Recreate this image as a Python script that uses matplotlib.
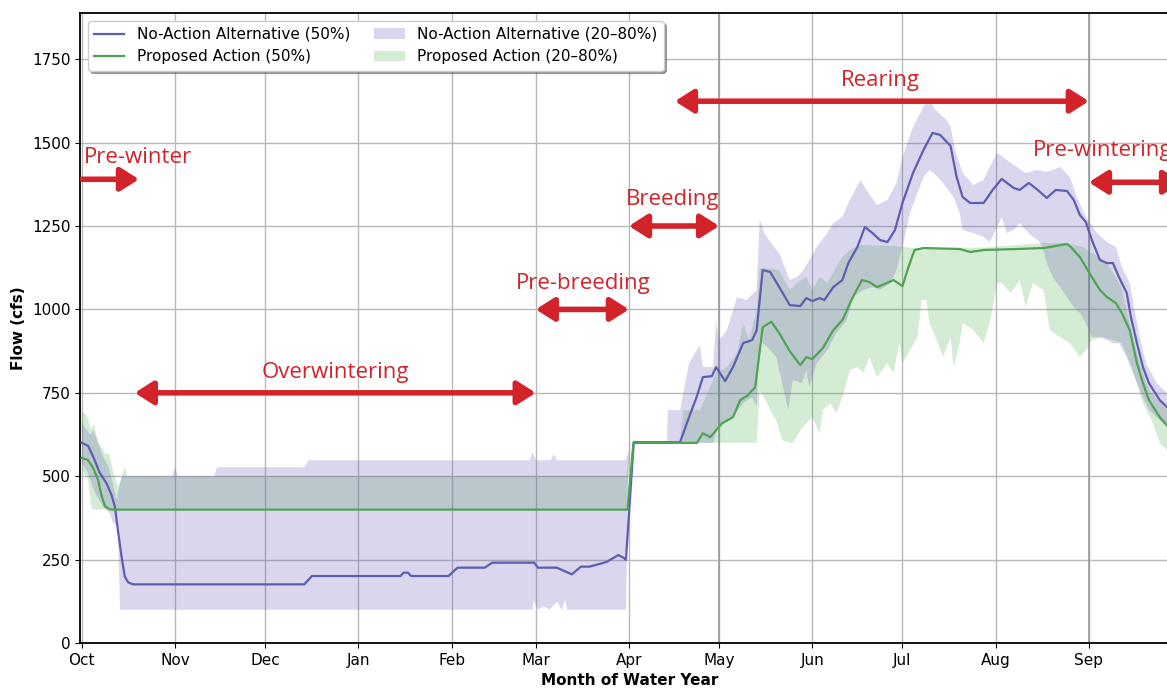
import numpy as np
import matplotlib.pyplot as plt
from matplotlib.patches import FancyArrowPatch

# day of water year (0 = Oct 1)
month_start = [0, 31, 61, 92, 123, 151, 182, 212, 243, 273, 304, 335]
month_name = ['Oct', 'Nov', 'Dec', 'Jan', 'Feb', 'Mar', 'Apr', 'May', 'Jun', 'Jul', 'Aug', 'Sep']

# No-Action Alternative, median flow (cfs)
naa_day = [0, 2.1, 3.8, 6, 8.2, 9.9, 11, 12, 13.2, 14.3, 15.4, 17, 74, 76.5, 106, 107, 108.5, 109.5, 122,
           125, 134, 136.5, 150.5, 151.7, 158, 163, 166, 168.8, 173, 174.7, 178.5, 180.5, 181, 183.6, 199,
           202, 204.5, 206.6, 209.6, 211, 214, 216.6, 220, 223, 224.5, 226.5, 229, 232, 235.5, 239, 241,
           243, 245.5, 247, 250, 253, 255, 258, 260.5, 263, 265.5, 268, 270.5, 273, 276.5, 280, 283, 285.5,
           289, 291, 293, 295.5, 300, 303, 306, 310, 312, 315, 318, 321, 324, 327.7, 330, 332, 334, 336,
           338.7, 341, 343, 345, 347.6, 349, 351, 353, 355, 358.6, 361, 364]
naa_mid = [600, 591, 558, 509, 479, 443, 408, 338, 259, 199, 182, 176, 176, 201, 201, 211, 211, 201, 201,
           226, 226, 241, 241, 226, 226, 206, 229, 229, 239, 244, 264, 254, 249, 602, 602,
           677, 737, 797, 800, 827, 785, 827, 899, 908, 938, 1118, 1112, 1067, 1013, 1010, 1034,
           1025, 1034, 1028, 1067, 1088, 1139, 1187, 1247, 1229, 1208, 1202, 1238, 1319, 1409, 1478, 1529, 1523,
           1490, 1397, 1337, 1319, 1319, 1358, 1391, 1364, 1358, 1379, 1358, 1334, 1358, 1355, 1328, 1283, 1262, 1208,
           1148, 1139, 1139, 1097, 1049, 977, 899, 827, 779, 728, 707, 690]

# No-Action Alternative, 20% and 80% exceedance bounds
naa_hi_day = [0, 2.7, 3.8, 5, 7, 8.8, 10, 11.5, 13.2, 14, 30, 31, 32, 44, 45, 74, 75.5, 149, 150, 151,
              156, 157, 158, 181, 182.5, 194.6, 195, 199, 202, 205.6, 206.6, 210, 211, 212, 214.6, 218, 221,
              224.5, 225.5, 227, 229, 232, 235.5, 238, 240, 241.5, 244.5, 248, 250, 253, 255.5, 259, 261,
              264.5, 268, 271, 273, 276.5, 280, 281.5, 284, 287.7, 289, 290.5, 293, 296.5, 300, 302, 304.5,
              307.7, 311, 314, 317.7, 321, 323, 325.4, 328.7, 331, 334, 337.7, 341, 344, 346, 348.6, 350, 352,
              354, 357.6, 361, 364]
naa_hi = [660, 625, 638, 610, 560, 530, 490, 430, 498, 500, 500, 527, 500, 500, 527, 527, 548, 548, 573, 548,
          548, 566, 548, 548, 600, 600, 698, 698, 839, 893, 827, 827, 968, 908, 938, 1037, 1028,
          1058, 1270, 1230, 1202, 1169, 1088, 1097, 1118, 1139, 1187, 1229, 1259, 1277, 1328, 1388, 1358,
          1313, 1328, 1379, 1457, 1547, 1607, 1635, 1598, 1568, 1547, 1478, 1409, 1373, 1388, 1427, 1469,
          1448, 1427, 1409, 1418, 1412, 1418, 1427, 1397, 1337, 1277, 1229, 1202, 1187, 1127, 1079, 1007, 917,
          839, 779, 749, 730]
naa_lo_day = [0, 2, 3.5, 5, 7, 9.3, 10.4, 12, 12.7, 150, 150.3, 151.7, 153.6, 155.5, 158.2, 159.5, 160.8,
              161.5, 181, 182, 210, 212, 216.6, 220, 223, 224.5, 225.5, 228, 229, 231, 233, 235, 236.5, 239.5,
              241, 242, 244.5, 248, 251, 254.5, 256.5, 260, 263, 265.5, 269, 271, 273, 275.5, 278, 280, 282,
              284, 286.5, 290, 292, 293, 296.5, 300, 302, 304.5, 306, 307.7, 310, 312, 314, 316.4, 318, 319.5,
              321, 323, 325.4, 327.7, 330, 332, 334, 336, 338.7, 341, 343, 345, 347.6, 349, 351, 353, 355,
              358.6, 361, 364]
naa_lo = [540, 510, 470, 440, 410, 389, 359, 349, 100, 100, 129, 100, 110, 100, 124, 100, 129,
          100, 100, 600, 600, 659, 677, 719, 737, 710, 908, 887, 878, 857, 779, 698, 788, 779,
          818, 767, 839, 878, 929, 968, 1037, 1058, 1067, 1058, 1079, 1118, 1187, 1289, 1349, 1397, 1418,
          1403, 1379, 1337, 1289, 1238, 1229, 1217, 1202, 1247, 1277, 1229, 1238, 1259, 1238, 1217, 1208, 1190,
          1139, 1097, 1067, 1037, 1007, 989, 959, 917, 917, 908, 899, 899, 857, 827, 779, 737, 698,
          668, 647, 630]

# Proposed Action, median flow (cfs)
pa_day = [0, 2.1, 3.8, 5.4, 6.5, 7.7, 9.3, 11, 181.5, 183.5, 204.6, 206.6, 209, 211, 213, 216.6, 219,
          221.6, 224, 226.5, 229.4, 232, 235.5, 239, 241, 243, 246.5, 250, 253, 256.5, 259.5, 262, 264.5,
          267, 270, 273, 275, 277, 280, 292, 295.5, 300, 311, 320, 324, 327.7, 329, 332, 334, 336, 338.7,
          341, 344, 346, 348.6, 351, 353, 355, 358.6, 361, 364]
pa_mid = [555, 548, 524, 489, 443, 410, 401, 400, 400, 600, 600, 629, 617, 638, 659, 677, 728,
          743, 767, 947, 963, 929, 875, 833, 857, 851, 884, 938, 968, 1037, 1088, 1082, 1067,
          1076, 1088, 1070, 1127, 1178, 1184, 1181, 1172, 1178, 1181, 1184, 1190, 1196, 1187, 1157, 1127, 1097, 1058,
          1037, 1019, 989, 938, 839, 779, 728, 677, 653, 635]

# Proposed Action, 20% and 80% exceedance bounds
pa_hi_day = [0, 1.6, 3.2, 4, 5.5, 7, 8, 9, 10.5, 12, 13, 14.3, 15, 181, 182.5, 199, 200, 205.6, 211,
             214.6, 218, 220, 222, 224.5, 225.5, 228, 232, 235.5, 238, 241, 243, 245.5, 248, 251, 253,
             255.5, 259, 271, 276.5, 300, 320, 327.7, 333, 336, 341, 344, 346, 348.6, 351, 353, 355, 361, 364]
pa_hi = [693, 683, 640, 655, 600, 580, 565, 570, 510, 470, 490, 530, 500, 500, 600, 600, 698, 698, 809,
         827, 869, 959, 908, 998, 1124, 1124, 1118, 1058, 1080, 1097, 1058, 1097, 1079, 1127, 1157,
         1178, 1193, 1190, 1184, 1185, 1199, 1199, 1187, 1169, 1139, 1097, 1058, 959, 869, 809, 758, 698, 680]
pa_lo_day = [0, 2, 3.2, 4, 181, 182.5, 224.5, 225.5, 228, 229, 231, 233, 236.5, 239, 241, 243, 245.5,
             246.5, 249, 251, 253, 255.5, 258, 260, 262, 264.5, 268, 270, 272, 273, 275.5, 278, 279.4, 281,
             282, 284, 286.5, 289, 290, 292, 293, 296.5, 300, 302, 304.5, 306, 309, 312, 314, 316.4, 320,
             322, 325.4, 328.7, 332, 334, 336, 339.6, 343, 346, 348.6, 351, 353, 356.3, 358.6, 361, 364]
pa_lo = [520, 490, 405, 400, 400, 600, 600, 758, 719, 698, 668, 608, 599, 638, 659, 677, 629,
         698, 719, 689, 737, 818, 827, 809, 857, 797, 839, 809, 899, 839, 878, 917, 1028, 1028,
         959, 917, 857, 917, 827, 899, 959, 938, 899, 959, 1079, 1079, 1049, 1088, 1007, 1079, 1058,
         938, 917, 899, 857, 878, 908, 917, 908, 899, 839, 779, 719, 659, 599, 578, 570]

# life stage periods
stage_name = ['Pre-winter', 'Overwintering', 'Pre-breeding', 'Breeding', 'Rearing', 'Pre-wintering']
stage_start = [0, 17.6, 151, 182, 197.3, 335]
stage_end = [19, 151, 182, 212, 335, 366]
stage_level = [1390, 750, 1000, 1250, 1624, 1381]
stage_text_x = [0.7, 84.2, 166.7, 196.6, 265.8, 316.4]
stage_text_y = [1456, 812, 1079, 1328, 1687, 1477]
stage_style = ['-|>', '<|-|>', '<|-|>', '<|-|>', '<|-|>', '<|-|>']
stage_ha = ['left', 'center', 'center', 'center', 'center', 'left']

naa_line = '#5c5fae'
pa_line = '#4fa352'
naa_fill = '#7468c0'
pa_fill = '#2ca02c'
red = '#d2232a'

fig = plt.figure(figsize=(11.67, 6.9), dpi=100)
ax = fig.add_axes([0.0686, 0.068, 0.9417, 0.913])

ax.fill(np.r_[pa_hi_day, pa_lo_day[::-1]], np.r_[pa_hi, pa_lo[::-1]],
        color=pa_fill, alpha=0.2, lw=0, label='Proposed Action (20–80%)', zorder=2)
ax.fill(np.r_[naa_hi_day, naa_lo_day[::-1]], np.r_[naa_hi, naa_lo[::-1]],
        color=naa_fill, alpha=0.27, lw=0, label='No-Action Alternative (20–80%)', zorder=2)
ax.plot(naa_day, naa_mid, color=naa_line, lw=1.6, label='No-Action Alternative (50%)', zorder=3)
ax.plot(pa_day, pa_mid, color=pa_line, lw=1.6, label='Proposed Action (50%)', zorder=3)

ax.set_xlim(-0.6, 365)
ax.set_ylim(0, 1888)
ax.set_xticks(month_start)
ax.set_xticklabels(month_name)
ax.set_yticks(np.arange(0, 1751, 250))
ax.tick_params(labelsize=11)
ax.grid(True, color='#b8b8b8', lw=1)
ax.set_axisbelow(True)
for d in [212, 335]:
    ax.axvline(d, color='#999999', lw=1.2, zorder=1)
for s in ax.spines.values():
    s.set_linewidth(1.3)
ax.set_xlabel('Month of Water Year', fontsize=11, fontweight='bold', labelpad=4)
ax.set_ylabel('Flow (cfs)', fontsize=11, fontweight='bold')

h, l = ax.get_legend_handles_labels()
order = [2, 3, 1, 0]
ax.legend([h[i] for i in order], [l[i] for i in order], loc='upper left', ncol=2,
          fontsize=11, shadow=True, framealpha=1, columnspacing=1.6, handlelength=2.0)

for i in range(len(stage_name)):
    arr = FancyArrowPatch((stage_start[i], stage_level[i]), (stage_end[i], stage_level[i]),
                          arrowstyle=stage_style[i] + ',head_length=0.55,head_width=0.35',
                          mutation_scale=20, lw=4, color=red, shrinkA=0, shrinkB=0, zorder=5)
    ax.add_patch(arr)
    ax.text(stage_text_x[i], stage_text_y[i], stage_name[i], color=red, fontsize=16,
            family='Open Sans', ha=stage_ha[i], va='center', zorder=5)

fig.savefig('out.png', dpi=100)
